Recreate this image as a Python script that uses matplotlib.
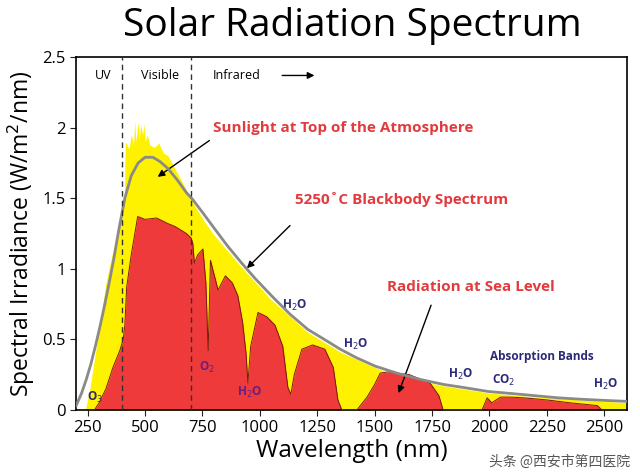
import matplotlib
matplotlib.use("Agg")
import matplotlib.pyplot as plt
import numpy as np

# Blackbody (5250 C) curve
bb_wl = [200, 224, 245, 265, 285, 305, 325, 345, 365, 385, 412, 440, 470, 500, 534, 565, 600, 640, 680, 708, 750, 800, 860, 921, 980, 1050, 1130, 1209, 1280, 1350, 1420, 1502, 1597, 1700, 1800, 1900, 1995, 2100, 2200, 2300, 2400, 2500, 2600]
bb_val = [0.03, 0.12, 0.22, 0.33, 0.46, 0.60, 0.75, 0.91, 1.08, 1.27, 1.50, 1.66, 1.75, 1.79, 1.79, 1.76, 1.71, 1.63, 1.54, 1.49, 1.40, 1.29, 1.16, 1.04, 0.93, 0.81, 0.68, 0.57, 0.50, 0.43, 0.37, 0.31, 0.26, 0.215, 0.18, 0.155, 0.13, 0.115, 0.10, 0.085, 0.075, 0.067, 0.06]

# Sunlight at top of atmosphere
toa_wl = [240, 260, 293, 330, 370, 400, 410, 414, 430, 440, 450, 455, 460, 470, 475, 480, 490, 495, 500, 510, 520, 540, 560, 580, 600, 650, 708, 760, 800, 921, 1050, 1209, 1350, 1502, 1597, 1800, 1995, 2200, 2400, 2600]
toa_val = [0.0, 0.15, 0.50, 0.90, 1.20, 1.40, 1.50, 1.90, 1.85, 1.95, 1.88, 2.05, 1.90, 2.04, 1.92, 2.02, 1.95, 2.03, 1.90, 1.95, 1.88, 1.86, 1.89, 1.82, 1.80, 1.65, 1.47, 1.33, 1.24, 1.01, 0.78, 0.55, 0.41, 0.30, 0.24, 0.17, 0.12, 0.09, 0.07, 0.05]

# Radiation at sea level
sea_wl = [280, 300, 330, 360, 390, 405, 412, 420, 440, 468, 500, 550, 600, 630, 680, 700, 708, 715, 730, 752, 765, 775, 785, 818, 850, 880, 904, 925, 940, 948, 960, 992, 1030, 1066, 1100, 1122, 1135, 1150, 1183, 1230, 1283, 1320, 1340, 1357, 1423, 1467, 1500, 1524, 1560, 1597, 1650, 1741, 1780, 1798, 1968, 1990, 2010, 2048, 2093, 2150, 2252, 2350, 2470, 2490]
sea_val = [0.0, 0.05, 0.15, 0.30, 0.42, 0.50, 0.60, 0.87, 1.10, 1.37, 1.35, 1.36, 1.32, 1.30, 1.25, 1.22, 1.18, 1.04, 1.10, 1.14, 0.90, 0.42, 1.06, 0.85, 0.95, 0.90, 0.81, 0.62, 0.40, 0.19, 0.45, 0.69, 0.66, 0.60, 0.45, 0.16, 0.11, 0.25, 0.43, 0.46, 0.43, 0.30, 0.07, 0.0, 0.0, 0.09, 0.18, 0.26, 0.27, 0.26, 0.25, 0.19, 0.10, 0.0, 0.0, 0.085, 0.05, 0.09, 0.09, 0.085, 0.07, 0.05, 0.03, 0.0]

xticks = [250, 500, 750, 1000, 1250, 1500, 1750, 2000, 2250, 2500]
yticks = [0, 0.5, 1, 1.5, 2, 2.5]
ytick_labels = ["0", "0.5", "1", "1.5", "2", "2.5"]

plt.rcParams["font.family"] = "Open Sans"
fig = plt.figure(figsize=(6.4, 4.76), dpi=100)
ax = fig.add_axes([0.119, 0.139, 0.861, 0.741])

ax.fill_between(toa_wl, toa_val, color="#fff200", lw=0, zorder=1)
ax.fill_between(sea_wl, sea_val, color="#ee3a3a", lw=0, zorder=2)
ax.plot(sea_wl, sea_val, color="#7a1a10", lw=0.7, zorder=3)
ax.plot(bb_wl, bb_val, color="#8a8a86", lw=2, zorder=4)

for xv in (400, 700):
    ax.axvline(xv, color="#333333", lw=1, ls=(0, (4, 3)), zorder=5)

ax.set_xlim(200, 2600)
ax.set_ylim(0, 2.5)
ax.set_xticks(xticks)
ax.set_yticks(yticks)
ax.set_yticklabels(ytick_labels)
ax.tick_params(labelsize=12, direction="out", length=4, color="#222222")
for s in ax.spines.values():
    s.set_linewidth(1.2)
ax.set_xlabel("Wavelength (nm)", fontsize=17.5, labelpad=2)
ax.set_ylabel("Spectral Irradiance (W/m$^2$/nm)", fontsize=16.5, labelpad=4)
fig.text(0.55, 0.945, "Solar Radiation Spectrum", fontsize=28, ha="center", va="center")

ax.text(317, 2.37, "UV", fontsize=9, ha="center", va="center")
ax.text(565, 2.37, "Visible", fontsize=9, ha="center", va="center")
ax.text(900, 2.37, "Infrared", fontsize=9, ha="center", va="center")
ax.annotate("", xy=(1250, 2.37), xytext=(1085, 2.37),
            arrowprops=dict(arrowstyle="-|>", color="black", lw=1))

red = "#e23b3e"
ax.text(796, 2.0, "Sunlight at Top of the Atmosphere", fontsize=11, color=red, fontweight="bold", va="center")
ax.annotate("", xy=(545, 1.64), xytext=(790, 1.92),
            arrowprops=dict(arrowstyle="-|>", color="black", lw=1))
ax.text(1153, 1.49, "5250˚C Blackbody Spectrum", fontsize=11, color=red, fontweight="bold", va="center")
ax.annotate("", xy=(935, 0.99), xytext=(1140, 1.32),
            arrowprops=dict(arrowstyle="-|>", color="black", lw=1))
ax.text(1554, 0.87, "Radiation at Sea Level", fontsize=11, color=red, fontweight="bold", va="center")
ax.annotate("", xy=(1600, 0.1), xytext=(1750, 0.76),
            arrowprops=dict(arrowstyle="-|>", color="black", lw=1))

navy = "#2b2a78"
purple = "#6b1e7e"
kw = dict(fontsize=8.5, fontweight="bold", ha="center", va="center")
ax.text(1153, 0.74, "H$_2$O", color=navy, **kw)
ax.text(1419, 0.46, "H$_2$O", color=navy, **kw)
ax.text(1873, 0.25, "H$_2$O", color=navy, **kw)
ax.text(2505, 0.18, "H$_2$O", color=navy, **kw)
ax.text(2060, 0.21, "CO$_2$", color=navy, **kw)
ax.text(2230, 0.375, "Absorption Bands", color=navy, **kw)
ax.text(280, 0.09, "O$_3$", color=navy, **kw)
ax.text(769, 0.30, "O$_2$", color=purple, **kw)
ax.text(957, 0.12, "H$_2$O", color=purple, **kw)

fig.text(0.985, 0.015, "头条 @西安市第四医院", fontsize=10, color="#555555", ha="right", va="bottom",
         family="Noto Sans CJK SC")

fig.savefig("out.png", dpi=100)
